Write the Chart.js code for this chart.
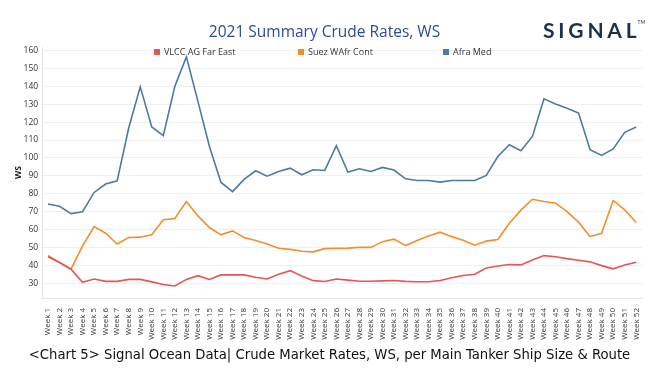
<!DOCTYPE html>
<html>
<head>
<meta charset="utf-8">
<script src="https://cdn.jsdelivr.net/npm/chart.js@4/dist/chart.umd.min.js"></script>
<style>
    html, body { margin: 0; padding: 0; background: #fff; }
    #wrap { position: relative; width: 659px; height: 370px; overflow: hidden; }
    #chart { position: absolute; left: 0; top: 0; }
    .title { position: absolute; left: 0; width: 649px; top: 20px; text-align: center;
        font: 15.5px "Open Sans", sans-serif; color: #2d4b97; }
    .logo { position: absolute; left: 543px; top: 17px; font: bold 21px "Lato", sans-serif;
        letter-spacing: 3.8px; color: #1d2f4e; }
    .logo sup { font-size: 5px; font-weight: normal; letter-spacing: 0; vertical-align: 14px; margin-left: -3px; }
    .legend { position: absolute; top: 45px; font: 9px "Open Sans", sans-serif; color: #333; white-space: nowrap; }
    .legend i { display: inline-block; width: 6px; height: 6px; margin-right: 4px; vertical-align: 0; }
    .caption { position: absolute; left: 0; width: 659px; top: 345px; text-align: center;
        font: 14.7px "DejaVu Sans Condensed", sans-serif; color: #111; }
</style>
</head>
<body>
<div id="wrap">
    <canvas id="chart" width="659" height="370"></canvas>
    <div class="title">2021 Summary Crude Rates, WS</div>
    <div class="logo">SIGNAL<sup>TM</sup></div>
    <div id="legend"></div>
    <div class="caption">&lt;Chart 5&gt; Signal Ocean Data| Crude Market Rates, WS, per Main Tanker Ship Size &amp; Route</div>
</div>
<script>
(function weeklyRates () {
    'use strict';

    var weeks = [];
    for (var w = 1; w <= 52; w++) {
        weeks.push('Week ' + w);
    }

    var seriesNames = ['VLCC AG Far East', 'Suez WAfr Cont', 'Afra Med'];
    var seriesColors = ['#e15759', '#f28e2b', '#4e79a7'];

    var vlccAgFarEast = [
        44.8, 41.5, 37.8, 30.5, 32.3, 31.0, 31.0, 32.1, 32.1, 30.7,
        29.2, 28.4, 32.1, 34.2, 32.1, 34.6, 34.6, 34.6, 33.3, 32.3,
        35.0, 37.0, 34.0, 31.4, 30.9, 32.3, 31.7, 31.1, 31.1, 31.3,
        31.5, 31.0, 30.8, 30.8, 31.5, 33.0, 34.3, 35.0, 38.5, 39.6,
        40.4, 40.2, 43.0, 45.4, 44.8, 43.7, 42.8, 41.9, 39.8, 38.0,
        40.2, 41.7
    ];
    var suezWafrCont = [
        45.5, 41.6, 37.8, 50.8, 61.6, 57.9, 51.9, 55.5, 55.7, 57.1,
        65.4, 66.1, 75.6, 67.6, 61.1, 57.0, 59.2, 55.5, 53.8, 51.9,
        49.5, 48.9, 47.8, 47.5, 49.3, 49.5, 49.6, 50.0, 50.0, 53.2,
        54.6, 51.0, 53.8, 56.4, 58.5, 56.0, 54.0, 51.2, 53.5, 54.4,
        63.5, 70.8, 76.9, 75.6, 74.7, 70.0, 64.1, 56.0, 57.9, 76.2,
        71.0, 63.9
    ];
    var afraMed = [
        74.2, 73.0, 68.9, 69.9, 80.7, 85.4, 87.2, 116.7, 139.7, 117.3,
        112.4, 140.0, 156.5, 131.6, 106.4, 86.3, 81.2, 88.0, 92.8, 89.8,
        92.4, 94.3, 90.6, 93.4, 93.0, 106.8, 92.1, 93.9, 92.4, 94.7,
        93.2, 88.3, 87.4, 87.4, 86.5, 87.4, 87.4, 87.4, 90.2, 100.8,
        107.4, 104.0, 112.0, 133.0, 130.2, 127.7, 125.1, 104.6, 101.4, 105.0,
        114.3, 117.3
    ];
    var yTicks = [30, 40, 50, 60, 70, 80, 90, 100, 110, 120, 130, 140, 150, 160];

    var seriesValues = [vlccAgFarEast, suezWafrCont, afraMed];

    // legend, laid out like the original: fixed slots
    var legend = document.getElementById('legend');
    var legendLeft = [154, 298, 443];
    seriesNames.forEach(function addItem (name, i) {
        var item = document.createElement('div');
        item.className = 'legend';
        item.style.left = legendLeft[i] + 'px';
        item.innerHTML = '<i style="background:' + seriesColors[i] + '"></i>' + name;
        legend.appendChild(item);
    });

    var ctx = document.getElementById('chart').getContext('2d');

    new Chart(ctx, {
        type: 'line',
        data: {
            labels: weeks,
            datasets: seriesNames.map(function toDataset (name, i) {
                return {
                    label: name,
                    data: seriesValues[i],
                    borderColor: seriesColors[i],
                    backgroundColor: seriesColors[i],
                    borderWidth: 1.6,
                    pointRadius: 0,
                    tension: 0
                };
            })
        },
        options: {
            responsive: false,
            animation: false,
            layout: { padding: { top: 47, right: 17, left: 0, bottom: 0 } },
            plugins: {
                legend: { display: false },
                tooltip: { enabled: false }
            },
            scales: {
                x: {
                    offset: true,
                    grid: { display: false },
                    border: { color: '#e6e6e6' },
                    ticks: {
                        autoSkip: false,
                        minRotation: 90,
                        maxRotation: 90,
                        padding: 2,
                        color: '#333',
                        font: { family: 'Open Sans', size: 8 }
                    },
                    afterFit: function fixHeight (scale) { scale.height = 72; }
                },
                y: {
                    min: 21.7,
                    max: 162,
                    afterBuildTicks: function setTicks (axis) {
                        axis.ticks = yTicks.map(function toTick (v) { return { value: v }; });
                    },
                    grid: { color: '#efefef', drawTicks: false },
                    border: { color: '#e6e6e6' },
                    ticks: {
                        padding: 4,
                        color: '#333',
                        font: { family: 'Open Sans', size: 8.5 }
                    },
                    title: {
                        display: true,
                        text: 'WS',
                        color: '#222',
                        padding: { top: 13, bottom: 0 },
                        font: { family: 'Open Sans', size: 8.5, weight: 'bold' }
                    },
                    afterFit: function fixWidth (scale) { scale.width = 42.2; }
                }
            }
        }
    });
}());
</script>
</body>
</html>
